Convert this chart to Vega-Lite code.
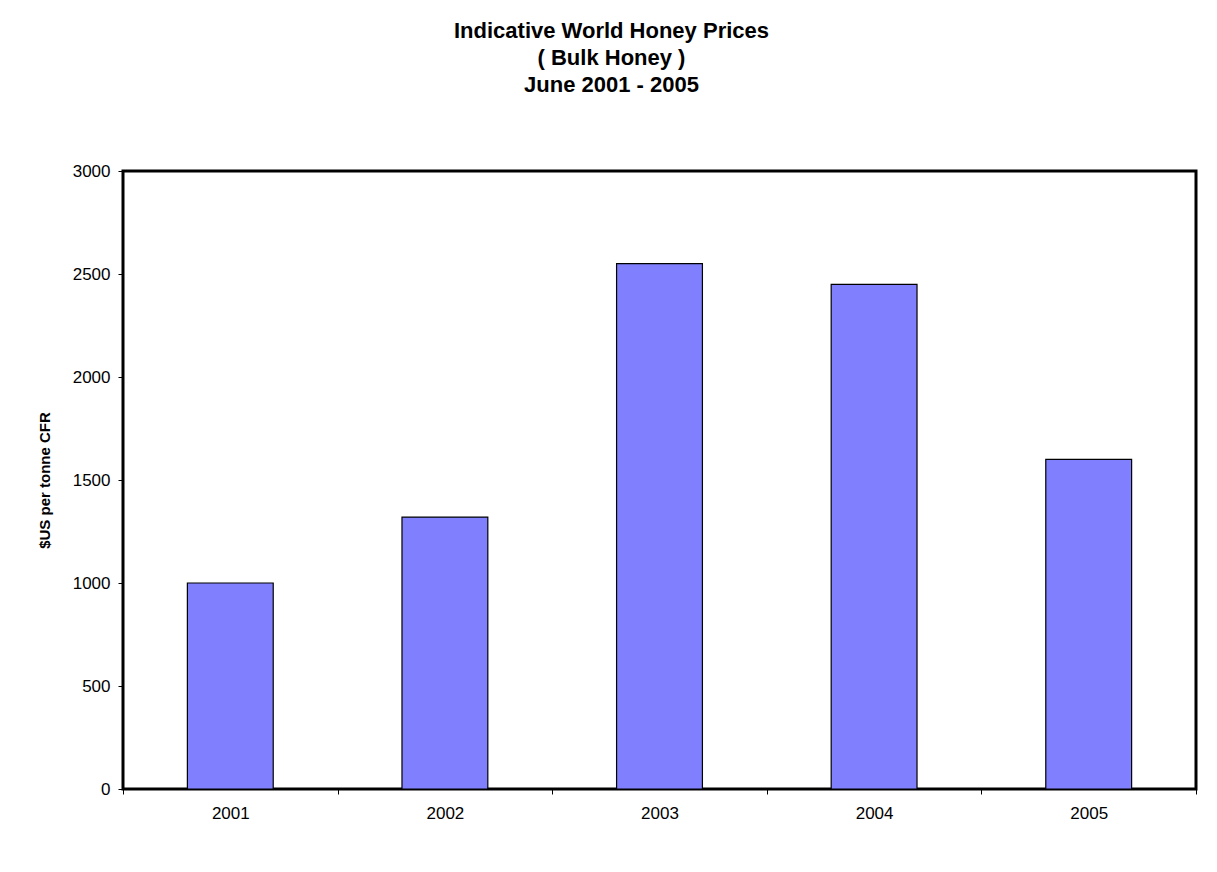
{
  "$schema": "https://vega.github.io/schema/vega-lite/v6.json",
  "autosize": {"type": "none"},
  "width": 1073,
  "height": 618,
  "padding": {"left": 123, "top": 171, "right": 21, "bottom": 83},
  "background": "white",
  "title": {
    "text": ["Indicative World Honey Prices", "( Bulk Honey )", "June 2001 - 2005"],
    "font": "Liberation Sans",
    "fontSize": 22,
    "fontWeight": "bold",
    "lineHeight": 27,
    "color": "black",
    "anchor": "middle",
    "frame": "group",
    "dx": -48,
    "offset": 65
  },
  "data": {
    "values": [
      {"year": "2001", "price": 1000},
      {"year": "2002", "price": 1320},
      {"year": "2003", "price": 2550},
      {"year": "2004", "price": 2450},
      {"year": "2005", "price": 1600}
    ]
  },
  "mark": {"type": "bar", "fill": "#8080FF", "stroke": "black", "strokeWidth": 1.2, "width": {"band": 0.4}},
  "encoding": {
    "x": {
      "field": "year",
      "type": "ordinal",
      "scale": {"paddingInner": 0, "paddingOuter": 0},
      "axis": {
        "title": null,
        "labelAngle": 0,
        "labelFontSize": 17,
        "labelPadding": 11,
        "tickBand": "extent",
        "tickSize": 5,
        "tickColor": "black",
        "domain": false
      }
    },
    "y": {
      "field": "price",
      "type": "quantitative",
      "scale": {"domain": [0, 3000]},
      "axis": {
        "title": "$US per tonne CFR",
        "titleFontSize": 15,
        "titleFontWeight": "bold",
        "titlePadding": 20,
        "format": "d",
        "values": [0, 500, 1000, 1500, 2000, 2500, 3000],
        "labelFontSize": 17,
        "labelPadding": 8,
        "tickSize": 5,
        "tickColor": "black",
        "grid": false,
        "domain": false
      }
    }
  },
  "config": {
    "font": "Liberation Sans",
    "view": {"stroke": "black", "strokeWidth": 3},
    "axis": {"labelColor": "black", "titleColor": "black", "labelFont": "Liberation Sans", "titleFont": "Liberation Sans"}
  }
}
